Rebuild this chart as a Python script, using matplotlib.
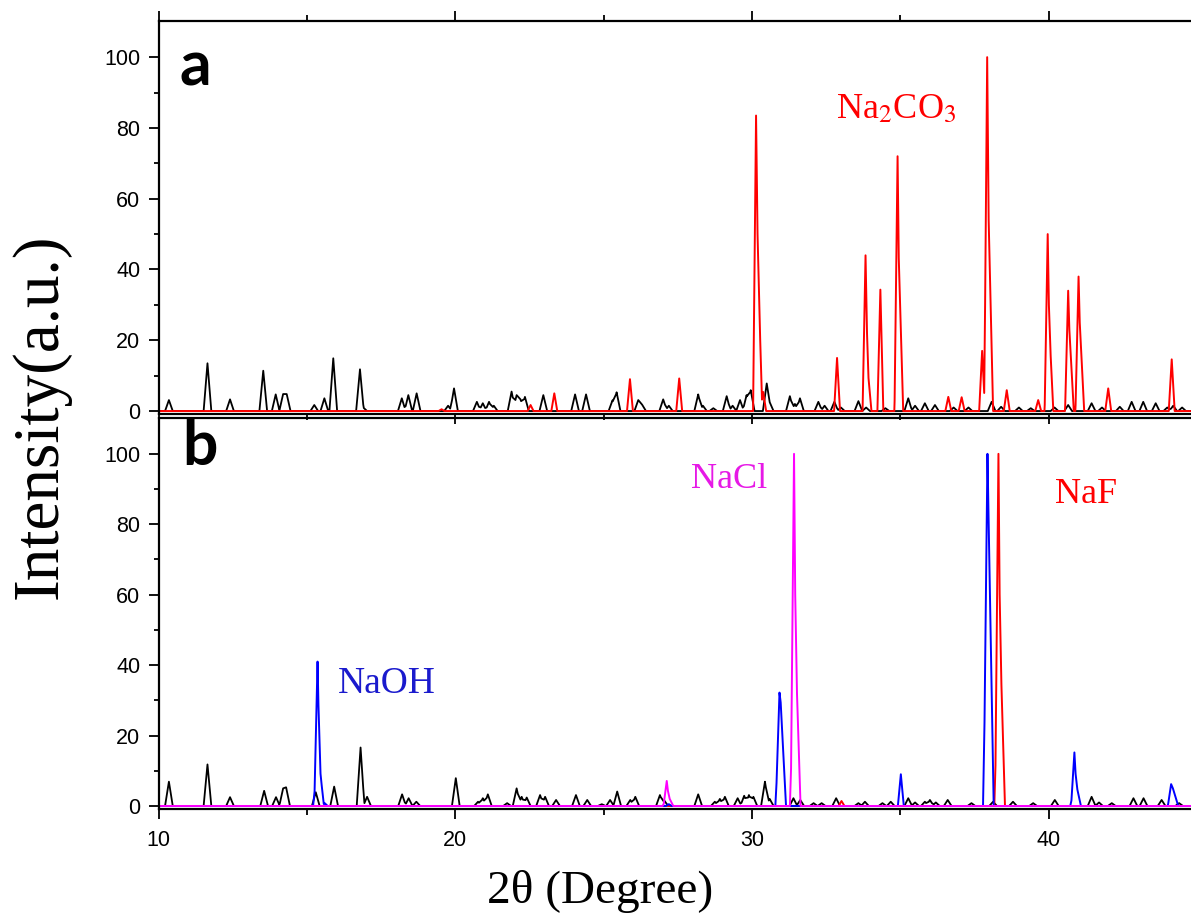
import matplotlib.pyplot as plt
import numpy as np

plt.rcParams['font.family'] = ['Liberation Sans', 'DejaVu Sans']
plt.rcParams['mathtext.fontset'] = 'stix'

X_MIN, X_MAX = 10, 44.8

# (a) sample pattern, black: peak position (2theta) and intensity
a_black_pos = [10.35, 11.65, 12.41, 13.53, 13.95, 14.2, 14.32, 15.25, 15.59, 15.89,
               16.79, 16.9, 18.2, 18.42, 18.7, 19.76, 19.96, 20.73, 20.93, 21.14,
               21.3, 21.9, 22.07, 22.2, 22.35, 22.97, 24.04, 24.41, 25.3, 25.44,
               26.17, 26.3, 27.01, 27.2, 28.19, 28.35, 28.7, 29.15, 29.35, 29.6,
               29.82, 29.96, 30.5, 30.6, 31.28, 31.45, 31.62, 32.24, 32.45, 32.78,
               33.0, 33.59, 33.85, 34.5, 35.27, 35.5, 35.83, 36.17, 36.8, 37.3,
               38.08, 38.4, 39.0, 39.4, 40.2, 40.66, 41.45, 41.8, 42.4, 42.8,
               43.19, 43.61, 44.0, 44.2, 44.5]
a_black_int = [3.1, 13.5, 3.3, 11.4, 4.7, 4.8, 4.8, 1.7, 3.6, 14.9,
               11.8, 1.0, 3.6, 4.5, 5.0, 1.5, 6.4, 2.6, 2.2, 2.6,
               1.5, 5.5, 4.5, 3.3, 4.0, 4.5, 4.7, 4.7, 3.0, 5.3,
               3.1, 1.8, 3.3, 1.5, 4.7, 1.5, 0.8, 4.2, 1.5, 3.1,
               4.5, 5.9, 7.8, 2.5, 4.2, 2.0, 3.6, 2.6, 1.5, 2.6,
               1.0, 2.8, 1.0, 0.8, 3.6, 1.5, 2.2, 1.7, 1.0, 1.0,
               2.6, 1.2, 1.0, 0.8, 1.0, 1.7, 2.2, 1.0, 1.2, 2.6,
               2.6, 2.2, 1.0, 1.5, 1.0]

# (a) Na2CO3 reference, red
na2co3_pos = [19.54, 22.54, 23.34, 25.89, 27.55, 30.14, 30.38, 32.87, 33.83, 34.33,
              34.91, 36.62, 37.07, 37.76, 37.93, 38.59, 39.65, 39.97, 40.66, 41.01,
              42.01, 44.15]
na2co3_int = [0.5, 1.7, 5.0, 9.0, 9.2, 83.5, 5.4, 15.0, 44.0, 34.3,
              72.0, 4.0, 3.9, 17.0, 100.0, 5.9, 3.1, 50.0, 34.0, 38.0,
              6.4, 14.6]
na2co3_sh_pos = [30.19, 33.88, 34.95, 37.98, 40.01, 40.70, 41.05]
na2co3_sh_int = [50.0, 14.0, 43.0, 54.0, 26.0, 23.0, 25.0]

# (b) sample pattern, black
b_black_pos = [10.35, 11.65, 12.41, 13.56, 13.96, 14.2, 14.3, 15.3, 15.92, 16.81,
               17.03, 18.21, 18.43, 18.69, 20.02, 20.77, 20.93, 21.1, 21.75, 22.07,
               22.24, 22.41, 22.86, 23.03, 23.4, 24.07, 24.45, 24.94, 25.22, 25.46,
               25.9, 26.07, 26.9, 27.05, 28.19, 28.75, 28.92, 29.09, 29.52, 29.74,
               29.9, 30.05, 30.44, 30.6, 31.4, 31.63, 32.08, 32.35, 32.84, 33.59,
               33.81, 34.4, 34.68, 35.27, 35.5, 35.83, 36.0, 36.2, 36.6, 37.4,
               38.13, 38.8, 39.48, 40.21, 41.45, 41.7, 42.13, 42.86, 43.2, 43.81,
               44.4]
b_black_int = [6.9, 11.8, 2.5, 4.3, 2.5, 5.0, 5.3, 3.9, 5.5, 16.6,
               2.6, 3.3, 2.2, 1.2, 7.9, 1.2, 2.2, 3.3, 0.8, 5.0,
               2.6, 2.4, 3.1, 2.6, 1.7, 3.1, 1.7, 0.5, 1.7, 4.1,
               1.7, 2.6, 3.1, 1.5, 3.3, 1.2, 2.0, 2.6, 2.2, 2.9,
               3.1, 2.6, 6.9, 2.0, 2.2, 1.7, 0.8, 0.8, 2.2, 0.8,
               1.2, 0.8, 1.2, 2.2, 1.0, 1.2, 1.7, 1.0, 1.7, 0.8,
               1.2, 1.2, 0.8, 1.7, 2.6, 1.0, 0.8, 2.2, 2.2, 1.7,
               0.8]

# (b) NaOH reference, blue
naoh_pos = [15.36, 15.6, 27.2, 30.93, 35.02, 37.94, 40.87, 44.13]
naoh_int = [41.0, 0.8, 0.5, 32.2, 9.0, 100.0, 15.2, 6.2]
naoh_sh_pos = [15.39, 30.97, 37.97, 40.91, 44.19]
naoh_sh_int = [15.0, 29.4, 85.3, 7.0, 5.0]

# (b) NaCl reference, magenta
nacl_pos = [27.13, 31.42]
nacl_int = [7.1, 100.0]
nacl_sh_pos = [27.17, 31.46]
nacl_sh_int = [3.0, 47.9]

# (b) NaF reference, red
naf_pos = [33.02, 38.31]
naf_int = [1.4, 100.0]
naf_sh_pos = [38.35]
naf_sh_int = [51.7]


def trace(pos, hts, w, sh_pos=(), sh_hts=(), sh_w=0.18):
    # line through the peak tops and peak feet
    p = np.concatenate([np.asarray(pos, float), np.asarray(sh_pos, float)])
    h = np.concatenate([np.asarray(hts, float), np.asarray(sh_hts, float)])
    ww = np.concatenate([np.full(len(pos), w), np.full(len(sh_pos), sh_w)])
    xs = np.unique(np.concatenate([[X_MIN, X_MAX], p, p - ww, p + ww]))
    tri = np.clip(1 - np.abs(xs[:, None] - p[None, :]) / ww[None, :], 0, None) * h[None, :]
    return xs, tri.max(axis=1)


fig = plt.figure(figsize=(11.91, 9.24), dpi=100)
ax1 = fig.add_axes([0.1331, 0.5519, 0.8669, 0.4253])
ax2 = fig.add_axes([0.1331, 0.1245, 0.8669, 0.4232])
ax2.patch.set_visible(False)

ax1.plot(*trace(a_black_pos, a_black_int, 0.13), color='black', lw=1.3)
ax1.plot(*trace(na2co3_pos, na2co3_int, 0.1, na2co3_sh_pos, na2co3_sh_int, 0.15),
         color='red', lw=1.4)

ax2.plot(*trace(b_black_pos, b_black_int, 0.13), color='black', lw=1.3)
ax2.plot(*trace(naf_pos, naf_int, 0.1, naf_sh_pos, naf_sh_int), color='red', lw=1.4)
ax2.plot(*trace(naoh_pos, naoh_int, 0.1, naoh_sh_pos, naoh_sh_int), color='blue', lw=1.4)
ax2.plot(*trace(nacl_pos, nacl_int, 0.1, nacl_sh_pos, nacl_sh_int), color='#ff00ff', lw=1.4)

for ax in (ax1, ax2):
    ax.set_xlim(X_MIN, X_MAX)
    ax.set_ylim(-0.85, 110.2)
    ax.set_xticks([10, 20, 30, 40])
    ax.set_xticks([15, 25, 35], minor=True)
    ax.set_yticks([0, 20, 40, 60, 80, 100])
    ax.set_yticks([10, 30, 50, 70, 90], minor=True)
    ax.spines['right'].set_visible(False)
    for s in ('left', 'top', 'bottom'):
        ax.spines[s].set_linewidth(1.6)
    ax.tick_params(axis='y', which='major', direction='out', length=7.2, width=1.3,
                   labelsize=15.5, pad=6)
    ax.tick_params(axis='y', which='minor', direction='out', length=3.8, width=1.3)

ax1.tick_params(axis='x', which='both', top=True, bottom=True, labelbottom=False,
                direction='out', width=1.3)
ax1.tick_params(axis='x', which='major', length=7.5)
ax1.tick_params(axis='x', which='minor', length=4.2)
ax2.tick_params(axis='x', which='both', top=False, bottom=True, direction='out', width=1.3)
ax2.tick_params(axis='x', which='major', length=7.5, labelsize=15.5, pad=8)
ax2.tick_params(axis='x', which='minor', length=4.2)

serif = ['Liberation Serif', 'DejaVu Serif']
ax1.text(10.72, 92, 'a', fontsize=45, fontweight='bold', family=['Lato', 'DejaVu Sans'])
ax2.text(10.8, 96.9, 'b', fontsize=45, fontweight='bold', family=['Lato', 'DejaVu Sans'])
ax1.text(32.83, 82.7, 'Na$_2$CO$_3$', color='red', fontsize=26, family=serif)
ax2.text(16.05, 32.1, 'NaOH', color='#1a1acd', fontsize=27, family=serif)
ax2.text(27.96, 90.3, 'NaCl', color='#e619e6', fontsize=26, family=serif)
ax2.text(40.23, 86.0, 'NaF', color='red', fontsize=26, family=serif)

fig.text(0.034, 0.549, 'Intensity(a.u.)', rotation=90, ha='center', va='center',
         fontsize=47, family=serif)
fig.text(0.504, 0.035, '2\u03b8 (Degree)', ha='center', va='center',
         fontsize=34, family=serif)

fig.savefig('out.png', dpi=100, facecolor='white')
